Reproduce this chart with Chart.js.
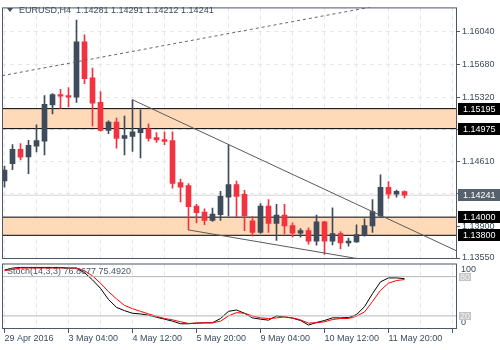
<!DOCTYPE html>
<html>
<head>
<meta charset="utf-8">
<script src="https://cdn.jsdelivr.net/npm/chart.js@4.4.1/dist/chart.umd.min.js"></script>
<style>
  html, body { margin: 0; padding: 0; background: #fff; }
  #wrap { position: relative; width: 500px; height: 350px; overflow: hidden; font-family: "Liberation Sans", Arial, sans-serif; }
  #main { position: absolute; left: 0; top: 0; }
  #stoch { position: absolute; left: 0; top: 260px; }
  .lbl { position: absolute; font-size: 9px; line-height: 11px; color: #3d4b5c; white-space: pre; }
  .tri { display: inline-block; width: 0; height: 0; border-left: 3px solid transparent; border-right: 3px solid transparent; border-top: 4px solid #3d4b5c; margin-right: 6px; vertical-align: 1px; }
</style>
</head>
<body>
<div id="wrap">
  <canvas id="main" width="500" height="268"></canvas>
  <canvas id="stoch" width="500" height="90"></canvas>
  <div class="lbl" id="title" style="left:7px;top:5px"></div>
  <div class="lbl" id="stochTitle" style="left:7px;top:266px;color:#4a5666"></div>
</div>
<script>
// EURUSD H4 candles, 29 Apr 20:00 .. 12 May 04:00
const opens  = [1.14398,1.14588,1.14746,1.14663,1.14782,1.14836,1.15235,1.15350,1.15339,1.15321,
                1.15932,1.15533,1.15264,1.14955,1.15048,1.14868,1.14890,1.14930,1.14973,1.14876,
                1.14854,1.14843,1.14380,1.14348,1.14121,1.14057,1.13963,1.14027,1.14221,1.14358,
                1.14251,1.13960,1.13833,1.14121,1.13930,1.14024,1.13906,1.13823,1.13852,1.13736,
                1.13949,1.13736,1.13819,1.13715,1.13726,1.13798,1.13902,1.14013,1.14329,1.14254,1.14281];
const highs  = [1.14563,1.14800,1.14811,1.14847,1.15016,1.15339,1.15361,1.15407,1.15426,1.16169,
                1.16008,1.15641,1.15382,1.15062,1.15091,1.15113,1.15293,1.15181,1.15027,1.14930,
                1.14940,1.14940,1.14420,1.14369,1.14140,1.14092,1.14100,1.14283,1.14797,1.14398,
                1.14294,1.14006,1.14150,1.14193,1.14140,1.14140,1.13938,1.13873,1.13881,1.14024,
                1.13955,1.14103,1.13841,1.13769,1.13916,1.13981,1.14193,1.14466,1.14391,1.14297,1.14291];
const lows   = [1.14329,1.14523,1.14631,1.14480,1.14717,1.14685,1.15138,1.15199,1.15213,1.15264,
                1.15469,1.15005,1.14948,1.14919,1.14760,1.14685,1.14725,1.14653,1.14836,1.14822,
                1.14797,1.14318,1.14168,1.13859,1.13935,1.13916,1.13952,1.13963,1.14013,1.14006,
                1.13852,1.13790,1.13820,1.13833,1.13744,1.13816,1.13779,1.13779,1.13701,1.13690,
                1.13590,1.13693,1.13650,1.13679,1.13722,1.13790,1.13833,1.13999,1.14207,1.14221,1.14212];
const closes = [1.14517,1.14746,1.14660,1.14790,1.14843,1.15242,1.15350,1.15332,1.15321,1.15932,
                1.15526,1.15256,1.14955,1.15048,1.14868,1.14897,1.14940,1.14973,1.14868,1.14851,
                1.14833,1.14372,1.14329,1.14114,1.14049,1.13963,1.14035,1.14229,1.14358,1.14229,
                1.14013,1.13833,1.14121,1.13930,1.14024,1.13902,1.13823,1.13852,1.13736,1.13949,
                1.13736,1.13819,1.13715,1.13736,1.13809,1.13906,1.14060,1.14329,1.14254,1.14283,1.14241];

// Stochastic (14,3,3)
const stochMain   = [90,93,94,94,94,94,94,94,93,93,86,75,62,45,33,28,24,23,21,18,
                     15,12,8,8,9,9.4,9.5,16,27,29,24,17,15,13.5,20,18.5,16.5,13,6,10,
                     13,17,17,17.5,22,34,54,72,78,78,76.8677];
const stochSignal = [89,91,93,93,93,93,93,93,93,93,89,81,70,57,46,36,31,27,23,19.5,
                     16,14,11,8.5,9,9.4,9.4,12,20,25,24,20,17,16,17,18.5,17,14,9,9.5,
                     11,14.5,16,16,19.5,26,42,59,70,74,75.4920];
const stochLevels = [80, 20];

// Drawn objects
const zones = [[1.15195, 1.14975], [1.14000, 1.13800]];
const channelLine = [[-0.3, 1.15558], [56.6, 1.16491]];
const upperTrend = [[16, 1.15293], [56.6, 1.13625]];
const lowerTrend = [[23, 1.13859], [47, 1.13500]];

// Axes
const yTicks = [1.16040, 1.15680, 1.15320, 1.14965, 1.14610, 1.14255, 1.13900, 1.13550];
const xLabels = ['29 Apr 2016', '3 May 04:00', '4 May 12:00', '5 May 20:00', '9 May 04:00', '10 May 12:00', '11 May 20:00'];
const xLabelStep = 8;
const xGridStep = 4;

const X_MIN = -0.3125, X_MAX = 56.5625;
const Y_MIN = 1.13539, Y_MAX = 1.16310;

const BULL = '#3d4b5c', BEAR = '#f2333f', FRAME = '#4d5866';
const FONT = '"Liberation Sans", Arial, sans-serif';
Chart.defaults.font.family = FONT;
Chart.defaults.font.size = 9;
Chart.defaults.color = '#3d4b5c';

const last = closes.length - 1;
document.getElementById('title').innerHTML = '<span class="tri"></span>EURUSD,H4  ' +
  [opens[last], highs[last], lows[last], closes[last]].map(v => v.toFixed(5)).join(' ');
document.getElementById('stochTitle').textContent = 'Stoch(14,3,3) ' +
  stochMain[last].toFixed(4) + ' ' + stochSignal[last].toFixed(4);

const idx = closes.map((_, i) => i);
const candleColors = idx.map(i => closes[i] >= opens[i] ? BULL : BEAR);
const xGrid = [];
for (let v = 0; v <= X_MAX; v += xGridStep) xGrid.push(v);
const seg = (pts) => pts.map(p => ({ x: p[0], y: p[1] }));
const flat = (v) => [{ x: X_MIN - 1, y: v }, { x: X_MAX + 1, y: v }];

const lineDs = (data, color, extra) => Object.assign({
  type: 'line', data, borderColor: color, borderWidth: 1, pointRadius: 0, tension: 0, fill: false
}, extra || {});

const mainDatasets = [];
zones.forEach(z => {
  mainDatasets.push(lineDs(flat(z[1]), '#000', { fill: { value: z[0] }, backgroundColor: '#ffdab9', order: 10 }));
  mainDatasets.push(lineDs(flat(z[0]), '#000', { order: 9 }));
});
mainDatasets.push(lineDs(flat(closes[last]), '#d4d4d4', { order: 8 }));
mainDatasets.push({
  type: 'bar', order: 2, grouped: false, barThickness: 1, borderWidth: 0,
  data: idx.map(i => ({ x: i, y: [lows[i], highs[i]] })), backgroundColor: candleColors
});
mainDatasets.push({
  type: 'bar', order: 1, grouped: false, barThickness: 5, borderWidth: 0, minBarLength: 1,
  data: idx.map(i => ({ x: i, y: [opens[i], closes[i]] })), backgroundColor: candleColors
});
mainDatasets.push(lineDs(seg(channelLine), '#666', { borderDash: [3, 3], order: 0 }));
mainDatasets.push(lineDs(seg(upperTrend), '#5a5a5a', { order: 0 }));
mainDatasets.push(lineDs(seg(lowerTrend), '#5a5a5a', { order: 0 }));

const framePlugin = {
  id: 'frame',
  afterDraw(chart) {
    const { ctx, chartArea: a } = chart;
    ctx.save();
    ctx.strokeStyle = FRAME;
    ctx.lineWidth = 1;
    ctx.strokeRect(a.left + 0.5, a.top + 0.5, a.right - a.left - 1, a.bottom - a.top - 1);
    ctx.restore();
  }
};

const priceBoxes = {
  id: 'priceBoxes',
  afterDraw(chart) {
    const { ctx, chartArea: a, scales: { y } } = chart;
    const boxes = [];
    zones.forEach(z => { boxes.push([z[0], '#000']); boxes.push([z[1], '#000']); });
    boxes.push([closes[last], '#56616e']);
    ctx.save();
    ctx.font = '9px ' + FONT;
    ctx.textBaseline = 'middle';
    boxes.forEach(([v, bg]) => {
      const py = Math.round(y.getPixelForValue(v));
      ctx.fillStyle = bg;
      ctx.fillRect(a.right + 1, py - 6, 43, 12);
      ctx.fillStyle = '#fff';
      ctx.fillText(v.toFixed(5), a.right + 6, py + 0.5);
    });
    ctx.restore();
  }
};

new Chart(document.getElementById('main'), {
  type: 'bar',
  data: { datasets: mainDatasets },
  plugins: [framePlugin, priceBoxes],
  options: {
    responsive: false,
    animation: false,
    layout: { padding: { left: 2, top: 2, right: 0, bottom: 9 } },
    plugins: { legend: { display: false }, tooltip: { enabled: false } },
    scales: {
      x: {
        type: 'linear', min: X_MIN, max: X_MAX, offset: false,
        grid: { color: '#e6e6e6', offset: false, drawTicks: false },
        border: { display: false, dash: [4, 4] },
        ticks: { display: false },
        afterBuildTicks: s => { s.ticks = xGrid.map(v => ({ value: v })); },
        afterFit: s => { s.height = 0; }
      },
      y: {
        position: 'right', min: Y_MIN, max: Y_MAX,
        grid: { color: '#e6e6e6', tickLength: 3, tickColor: FRAME, tickBorderDash: [] },
        border: { display: false, dash: [4, 4] },
        ticks: { padding: 2, color: '#3d4b5c', callback: v => v.toFixed(5) },
        afterBuildTicks: s => { s.ticks = yTicks.map(v => ({ value: v })); },
        afterFit: s => { s.width = 43; }
      }
    }
  }
});

const stochAxis = {
  id: 'stochAxis',
  afterDraw(chart) {
    const { ctx, chartArea: a, scales: { y } } = chart;
    ctx.save();
    ctx.font = '9px ' + FONT;
    ctx.textBaseline = 'middle';
    ctx.fillStyle = '#3d4b5c';
    ctx.fillText('100', a.right + 4, y.getPixelForValue(100) + 6.5);
    ctx.fillText('0', a.right + 4, y.getPixelForValue(0) - 6);
    stochLevels.forEach(v => {
      const py = Math.round(y.getPixelForValue(v));
      ctx.fillStyle = '#c4c4c4';
      ctx.fillRect(a.right + 2, py - 4, 12, 8);
      ctx.fillStyle = '#f4f4f4';
      ctx.fillText(String(v), a.right + 3, py + 0.5);
    });
    ctx.restore();
  }
};

new Chart(document.getElementById('stoch'), {
  type: 'line',
  data: {
    datasets: [
      ...stochLevels.map(v => lineDs(flat(v), '#b8b8b8')),
      lineDs(idx.map(i => ({ x: i, y: stochSignal[i] })), '#ff0000'),
      lineDs(idx.map(i => ({ x: i, y: stochMain[i] })), '#000000')
    ]
  },
  plugins: [framePlugin, stochAxis],
  options: {
    responsive: false,
    animation: false,
    layout: { padding: { left: 2, top: 3.5, right: 0, bottom: 0 } },
    plugins: { legend: { display: false }, tooltip: { enabled: false } },
    scales: {
      x: {
        type: 'linear', min: X_MIN, max: X_MAX, offset: false,
        grid: {
          color: '#e6e6e6', offset: false, tickLength: 4, tickBorderDash: [],
          tickColor: c => (c.tick && c.tick.value % xLabelStep === 0) ? FRAME : 'rgba(0,0,0,0)'
        },
        border: { display: false, dash: [4, 4] },
        ticks: {
          align: 'start', autoSkip: false, maxRotation: 0, padding: 0, color: '#3d4b5c',
          callback: v => (v % xLabelStep === 0 && xLabels[v / xLabelStep]) ? xLabels[v / xLabelStep] : ''
        },
        afterBuildTicks: s => { s.ticks = xGrid.map(v => ({ value: v })); },
        afterFit: s => { s.height = 21; }
      },
      y: {
        position: 'right', min: 0, max: 100,
        grid: { display: false },
        border: { display: false },
        ticks: { display: false },
        afterFit: s => { s.width = 43; }
      }
    }
  }
});
</script>
</body>
</html>
